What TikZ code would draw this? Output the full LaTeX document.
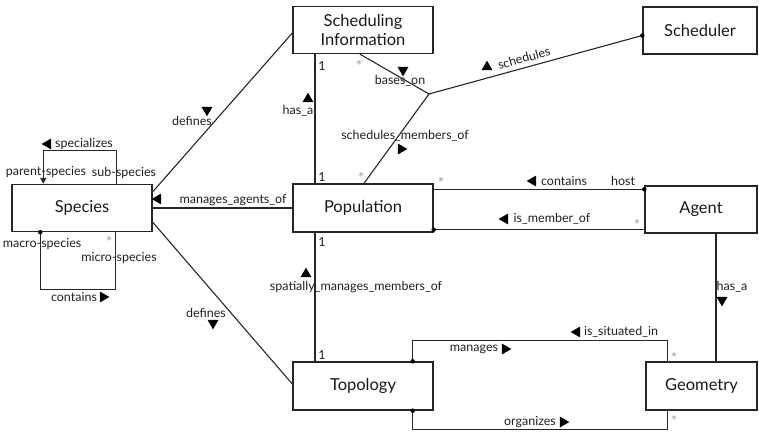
\documentclass[tikz,border=0pt]{standalone}
\usepackage{fontspec}
\setmainfont{Lato}
\newfontfamily\starfont{DejaVu Sans}
\usetikzlibrary{shapes.geometric,arrows.meta}
\begin{document}
\begin{tikzpicture}[x=1pt,y=-1pt,
  box/.style={draw=black!85, line width=1.4pt, minimum width=140pt, minimum height=47pt, font=\fontsize{16.5}{19}\selectfont, align=center, inner sep=0pt, text=black!90},
  conn/.style={draw=black!85, line width=1.1pt},
  lbl/.style={font=\fontsize{12.5}{13}\selectfont, inner sep=0pt, text=black!88},
  mult/.style={font=\starfont\fontsize{11}{11}\selectfont, inner sep=0pt, text=black!40},
  one/.style={font=\fontsize{12.5}{13}\selectfont, inner sep=0pt, text=black!88},
  tri/.style={isosceles triangle, isosceles triangle apex angle=60, fill=black, inner sep=0pt, minimum size=9.5pt, shape border rotate=#1},
  dot/.style={circle, fill=black, inner sep=0pt, minimum size=4.5pt}
]
\useasboundingbox (0,0) rectangle (759,433);
% boxes
\node[box] (species) at (82,208) {Species};
\node[box] (schedinfo) at (363,30) {Scheduling\\Information};
\node[box, minimum width=114pt] (scheduler) at (700,30.5) {Scheduler};
\node[box, minimum height=48pt] (population) at (363,208) {Population};
\node[box, minimum width=112pt] (agent) at (701,209.5) {Agent};
\node[box, minimum height=48pt] (topology) at (363,386) {Topology};
\node[box, minimum width=111pt, minimum height=48pt] (geometry) at (701.5,386) {Geometry};

% species connectors
\draw[conn] ([yshift=-8pt]species.north east) -- ([yshift=-3pt]schedinfo.west);
\draw[conn] (species.east) -- (population.west);
\draw[conn] ([yshift=10pt]species.south east) -- ([yshift=2pt]topology.west);
% vertical population links
\draw[conn] ([xshift=-48pt]schedinfo.south) -- ([xshift=-48pt]population.north);
\draw[conn] ([xshift=-48pt]population.south) -- ([xshift=-48pt]topology.north);
% ternary
\coordinate (tern) at (429,94);
\draw[conn] ([xshift=-3pt]schedinfo.south) -- (tern);
\draw[conn] ([xshift=1pt]population.north) -- (tern);
\draw[conn] (tern) -- ([yshift=-5pt]scheduler.west) node[dot] (d1) {};
% population - agent
\draw[conn] ([yshift=-6pt]population.north east) -- ([yshift=-4pt]agent.north west) node[dot] (d2) {};
\draw[conn] ([yshift=3pt]population.south east) node[dot] (d3) {} -- ([yshift=4pt]agent.south west);
% agent - geometry
\draw[conn] ([xshift=15pt]agent.south) -- ([xshift=14.5pt]geometry.north);
% topology - geometry
\draw[conn] ([xshift=-21pt]topology.north east) node[dot] (d4) {} |- ([xshift=22pt,yshift=21pt]geometry.north west) -- ([xshift=22pt]geometry.north west);
\draw[conn] ([xshift=-21pt]topology.south east) node[dot] (d5) {} |- ([xshift=22pt,yshift=-19pt]geometry.south west) -- ([xshift=22pt]geometry.south west);
% species self loops
\draw[conn, {Triangle[length=6pt,width=6pt]}-] ([xshift=32pt]species.north west) |- ([xshift=105pt,yshift=33pt]species.north west) -- ([xshift=105pt]species.north west);
\draw[conn] ([xshift=29pt]species.south west) node[dot] (d6) {} |- ([xshift=104pt,yshift=-57pt]species.south west) -- ([xshift=104pt]species.south west);

% labels: species loops
\node[tri=180] (t1) at (48,144) {};
\node[lbl] (l1) at (84,144) {specializes};
\node[lbl] (l2) at (46,172) {parent-species};
\node[lbl] (l3) at (124,173) {sub-species};
\node[lbl] (l4) at (42,244) {macro-species};
\node[lbl] (l5) at (119,258) {micro-species};
\node[mult] (m1) at (109,240) {*};
\node[lbl] (l6) at (74,297) {contains};
\node[tri=0] (t2) at (103,297) {};
% species relations
\node[lbl] (l7) at (192,121) {defines};
\node[tri=228] (t3) at (207,110) {};
\node[tri=180] (t4) at (158,199) {};
\node[lbl] (l8) at (233,200) {manages\_agents\_of};
\node[lbl] (l9) at (206,313) {defines};
\node[tri=-49] (t5) at (213,323) {};
% population verticals
\node[one] (o1) at (322,66) {1};
\node[one] (o2) at (322,177) {1};
\node[one] (o3) at (322,242) {1};
\node[one] (o4) at (322,355) {1};
\node[lbl] (l10) at (298,111) {has\_a};
\node[tri=90] (t6) at (308,99) {};
\node[lbl] (l11) at (356,287) {spatially\_manages\_members\_of};
\node[tri=90] (t7) at (306,274) {};
% ternary
\node[mult] (m2) at (359,64) {*};
\node[lbl] (l12) at (400,81) {bases\_on};
\node[tri=270] (t8) at (403,70) {};
\node[lbl] (l13) at (405,136) {schedules\_members\_of};
\node[tri=-40] (t9) at (401,149) {};
\node[mult] (m3) at (361,176) {*};
\node[lbl, rotate=15.6] (l14) at (524,58) {schedules};
\node[tri=90] (t10) at (487,67) {};
% population - agent
\node[mult] (m4) at (441,181) {*};
\node[tri=180] (t11) at (533,181) {};
\node[lbl] (l15) at (564,181) {contains};
\node[lbl] (l16) at (623,181) {host};
\node[tri=180] (t12) at (505,219) {};
\node[lbl] (l17) at (552,219) {is\_member\_of};
\node[mult] (m5) at (637,223) {*};
% agent - geometry
\node[lbl] (l18) at (732,287) {has\_a};
\node[tri=270] (t13) at (722,300) {};
% topology - geometry
\node[tri=180] (t14) at (577,332) {};
\node[lbl] (l19) at (621,332) {is\_situated\_in};
\node[lbl] (l20) at (474,349) {manages};
\node[tri=0] (t15) at (505,349) {};
\node[mult] (m6) at (674,356) {*};
\node[lbl] (l21) at (530,422) {organizes};
\node[tri=0] (t16) at (563,422) {};
\node[mult] (m7) at (674,419) {*};
\end{tikzpicture}
\end{document}
